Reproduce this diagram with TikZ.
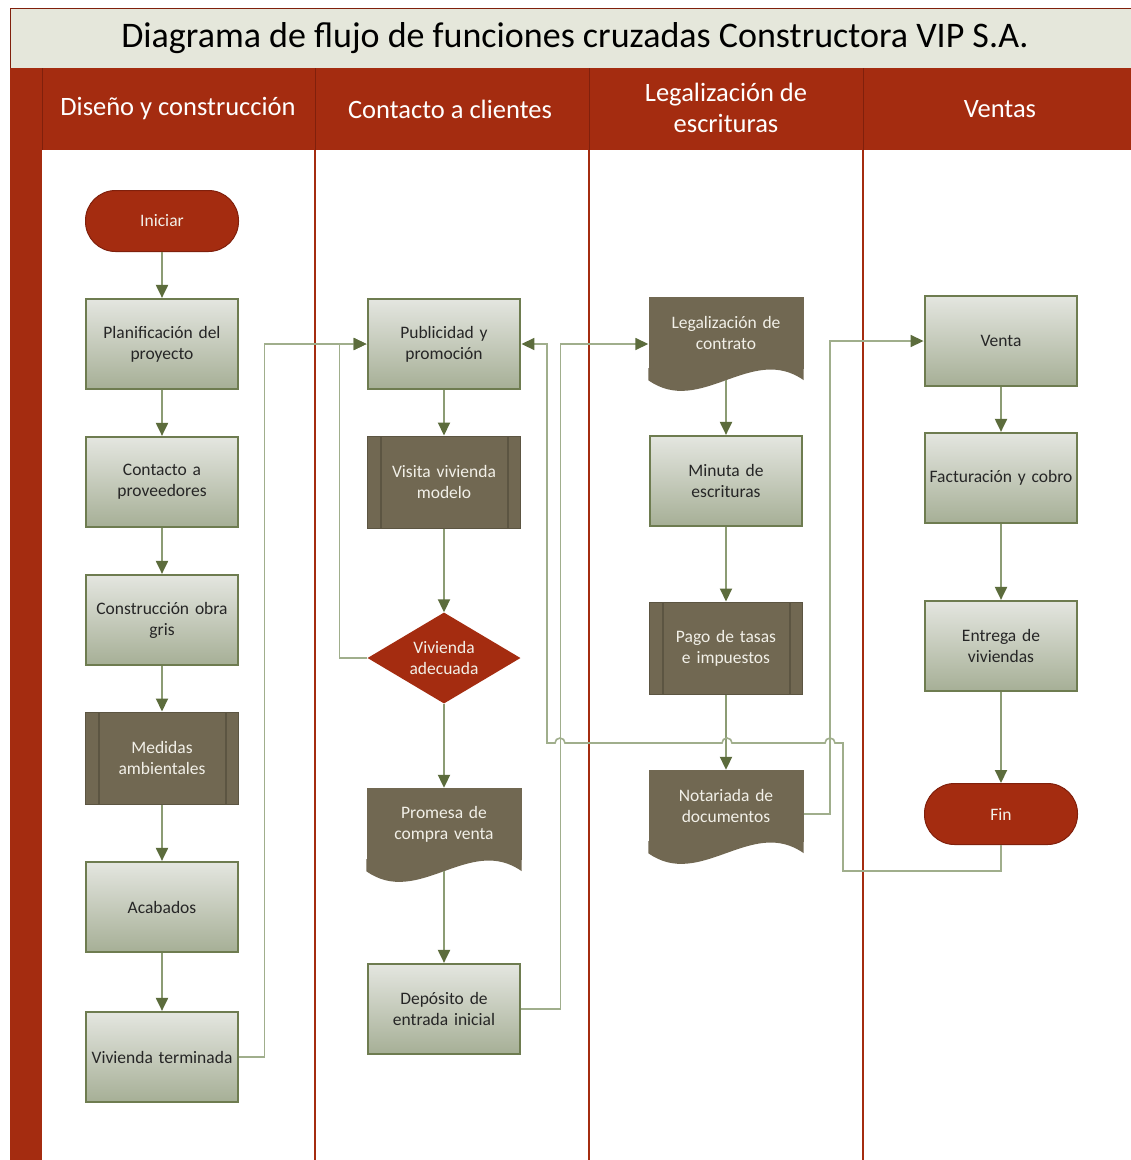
\documentclass[tikz,border=0pt]{standalone}
\usepackage{fontspec}
\setmainfont{Carlito}
\usepackage{tikz}
\usetikzlibrary{arrows.meta}
\usetikzlibrary{shapes.geometric}
\usetikzlibrary{positioning}
\definecolor{vipred}{RGB}{164,44,16}
\definecolor{vipredd}{RGB}{128,32,12}
\definecolor{titlebg}{RGB}{229,231,219}
\definecolor{proctop}{RGB}{228,230,224}
\definecolor{procbot}{RGB}{166,175,150}
\definecolor{procline}{RGB}{110,124,80}
\definecolor{darkfill}{RGB}{113,104,82}
\definecolor{darkline}{RGB}{92,85,66}
\definecolor{flowline}{RGB}{140,156,116}
\definecolor{linkline}{RGB}{160,174,140}
\definecolor{tipgreen}{RGB}{92,108,60}
\definecolor{lighttext}{RGB}{242,240,232}
\tikzset{>={Triangle[length=13pt,width=12pt,color=tipgreen]}}
\tikzstyle{boxtext} = [font=\fontsize{17.5}{21}\selectfont, align=center, text width=146pt]
\tikzstyle{proc} = [boxtext, rectangle, draw=procline, line width=2.2pt, top color=proctop, bottom color=procbot, minimum width=152pt, minimum height=90pt, text=black!85]
\tikzstyle{pred} = [boxtext, rectangle, fill=darkfill, draw=darkline, line width=1pt, minimum width=153pt, minimum height=92pt, text=lighttext,
  path picture={\draw[darkline, line width=2pt]
    ([xshift=13pt]path picture bounding box.north west) -- ([xshift=13pt]path picture bounding box.south west)
    ([xshift=-13pt]path picture bounding box.north east) -- ([xshift=-13pt]path picture bounding box.south east);}]
\tikzstyle{docbox} = [boxtext, rectangle, fill=darkfill, minimum width=155pt, minimum height=72pt, text=lighttext]
\tikzstyle{term} = [boxtext, rectangle, rounded corners=30pt, fill=vipred, draw=vipredd, line width=1pt, minimum width=153pt, minimum height=61pt, text=lighttext]
\tikzstyle{decision} = [boxtext, text width=80pt, diamond, aspect=1.68, fill=vipred, minimum width=153pt, minimum height=91pt, inner sep=0pt, text=lighttext]
\tikzstyle{lanehead} = [font=\fontsize{26.5}{31}\selectfont, text=white, align=center]
\tikzstyle{flow} = [->, draw=flowline, line width=2pt]
\tikzstyle{link} = [->, draw=linkline, line width=1.6pt]

\begin{document}
\begin{tikzpicture}[x=1pt, y=-1pt]
\useasboundingbox (0,0) rectangle (1131,1160);
% lanes
\fill[white] (0,0) rectangle (1131,1160);
\fill[titlebg] (10,8) rectangle (1131,68);
\draw[vipredd, line width=1pt] (10,68) -- (10,8) -- (1131,8);
\fill[vipred] (10,68) rectangle (1131,150);
\fill[vipred] (10,150) rectangle (42,1160);
\foreach \x in {315,589,863} \draw[vipred, line width=2pt] (\x,68) -- (\x,1160);
\foreach \x in {42,315,589,863} \draw[vipredd, line width=1pt] (\x,68) -- (\x,150);
\node [font=\fontsize{36}{42}\selectfont] (title) at (575,38) {Diagrama de flujo de funciones cruzadas Constructora VIP S.A.};
\node [lanehead] (h1) at (178,109) {Diseño y construcción};
\node [lanehead] (h2) at (450,109) {Contacto a clientes};
\node [lanehead] (h3) at (726,108) {Legalización de\\escrituras};
\node [lanehead] (h4) at (1000,109) {Ventas};

% Diseño y construcción
\node [term] (ini) at (162,221) {Iniciar};
\node [proc] (plan) at (162,344) {Planificación del\\proyecto};
\node [proc] (prov) at (162,482) {Contacto a\\proveedores};
\node [proc] (obra) at (162,620) {Construcción obra\\gris};
\node [pred] (med) at (162,758) {Medidas\\ambientales};
\node [proc] (acab) at (162,907) {Acabados};
\node [proc] (vterm) at (162,1057) {Vivienda terminada};

% Contacto a clientes
\node [proc] (pub) at (444,344) {Publicidad y\\promoción};
\node [pred] (visita) at (444,482) {Visita vivienda\\modelo};
\node [decision] (adec) at (444,658) {Vivienda\\adecuada};
\node [docbox] (promesa) at (444,824) {Promesa de\\compra venta};
\node [proc] (depo) at (444,1009) {Depósito de\\entrada inicial};

% Legalización de escrituras
\node [docbox] (legal) at (726,333) {Legalización de\\contrato};
\node [proc] (minuta) at (726,481) {Minuta de\\escrituras};
\node [pred] (pago) at (726,648) {Pago de tasas\\e impuestos};
\node [docbox] (notar) at (726,806) {Notariada de\\documentos};

% Ventas
\node [proc] (venta) at (1001,341) {Venta};
\node [proc] (fact) at (1001,478) {Facturación y cobro};
\node [proc] (entrega) at (1001,646) {Entrega de\\viviendas};
\node [term] (fin) at (1001,814) {Fin};

% wavy bottoms
\foreach \d in {legal, promesa, notar}
  \fill[darkfill] ([yshift=1pt]\d.south west) -- ([yshift=-11pt]\d.south west)
    .. controls +(52pt,-37pt) and +(-52pt,37pt) .. ([yshift=-11pt]\d.south east)
    -- ([yshift=1pt]\d.south east) -- cycle;

% flow inside lanes
\draw [flow] (ini) -- (plan);
\draw [flow] (plan) -- (prov);
\draw [flow] (prov) -- (obra);
\draw [flow] (obra) -- (med);
\draw [flow] (med) -- (acab);
\draw [flow] (acab) -- (vterm);
\draw [flow] (pub) -- (visita);
\draw [flow] (visita) -- (adec);
\draw [flow] (adec) -- (promesa);
\draw [flow] ([yshift=-11pt]promesa.south) -- (depo);
\draw [flow] ([yshift=-11pt]legal.south) -- (minuta);
\draw [flow] (minuta) -- (pago);
\draw [flow] (pago) -- (notar);
\draw [flow] (venta) -- (fact);
\draw [flow] (fact) -- (entrega);
\draw [flow] (entrega) -- (fin);

% links across lanes
\draw [link] (vterm.east) -- ++(25,0) |- (pub.west);
\draw [link] (adec.west) -- ++(-28,0) |- (pub.west);
\draw [link] (depo.east) -- ++(39,0) |- (legal.west |- pub.west);
\draw [link] ([yshift=-8pt]notar.east) -- ++(26,0) |- (venta.west);
\draw [link] (fin.south) |- (843,871) -- (843,743) -- (835,743)
  arc [start angle=0, end angle=180, radius=5pt] -- (732,743)
  arc [start angle=0, end angle=180, radius=5pt] -- (565,743)
  arc [start angle=0, end angle=180, radius=5pt] -- (547,743) |- (pub.east);
\end{tikzpicture}
\end{document}
